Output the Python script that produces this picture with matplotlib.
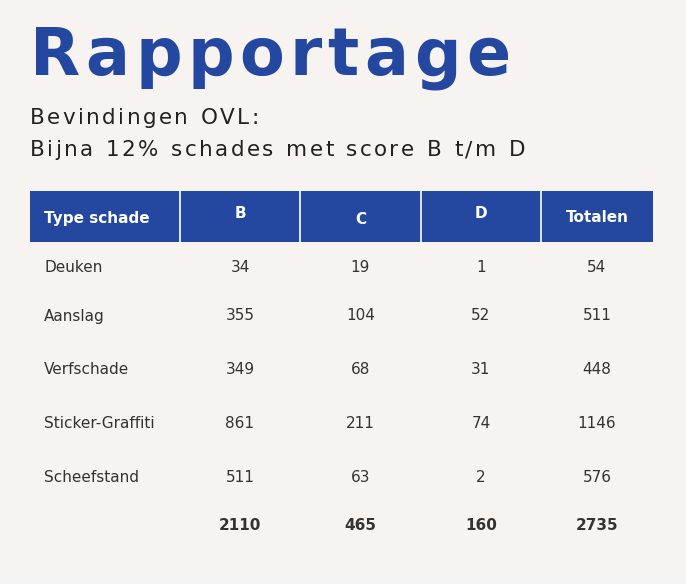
import matplotlib
matplotlib.use("Agg")
import matplotlib.pyplot as plt
from matplotlib.patches import Rectangle

title = "Rapportage"
subtitle = ["Bevindingen OVL:", "Bijna 12% schades met score B t/m D"]
columns = ["Type schade", "B", "C", "D", "Totalen"]
categories = ["Deuken", "Aanslag", "Verfschade", "Sticker-Graffiti", "Scheefstand"]
score_b = [34, 355, 349, 861, 511]
score_c = [19, 104, 68, 211, 63]
score_d = [1, 52, 31, 74, 2]
totals = [54, 511, 448, 1146, 576]
sum_row = [2110, 465, 160, 2735]

bg = "#f7f3f0"
blue = "#2447a0"
fig = plt.figure(figsize=(6.86, 5.84), dpi=100, facecolor=bg)
ax = fig.add_axes([0, 0, 1, 1])
ax.set_xlim(0, 686); ax.set_ylim(584, 0); ax.axis("off")
ax.set_facecolor(bg)
renderer = fig.canvas.get_renderer()


def spaced(s, x0, y, spacing, **kw):
    x = x0
    for ch in s:
        t = ax.text(x, y, ch, va="baseline", ha="left", **kw)
        w = t.get_window_extent(renderer).width if ch != " " else None
        if w is None:
            tmp = ax.text(0, 0, "a", **kw)
            w = tmp.get_window_extent(renderer).width * 0.6
            tmp.remove()
        x += w + spacing


spaced(title, 30, 75, 5.5, fontsize=47, fontweight="bold", color=blue)
spaced(subtitle[0], 30, 124, 2.4, fontsize=15.5, color="#222222")
spaced(subtitle[1], 30, 156, 2.4, fontsize=15.5, color="#222222")

edges = [30, 180, 300, 421, 541, 653]
ax.add_patch(Rectangle((edges[0], 191), edges[-1] - edges[0], 51, color=blue, lw=0))
for e in edges[1:-1]:
    ax.plot([e, e], [191, 242], color="white", lw=1.2)
centers = [(edges[i] + edges[i + 1]) / 2 for i in range(5)]
hy = [219, 214, 219, 214, 217]
for i, c in enumerate(columns):
    x = 44 if i == 0 else centers[i]
    ax.text(x, hy[i], c, color="white", fontsize=11, fontweight="bold", va="center",
            ha="left" if i == 0 else "center")

row_y = [268, 317, 370, 424, 478]
txt = "#333333"
for r, name in enumerate(categories):
    y = row_y[r]
    ax.text(44, y, name, fontsize=11, color=txt, va="center", ha="left")
    for j, v in enumerate([score_b[r], score_c[r], score_d[r], totals[r]]):
        ax.text(centers[j + 1], y - 1, str(v), fontsize=11, color=txt, va="center", ha="center")
for j, v in enumerate(sum_row):
    ax.text(centers[j + 1], 525, str(v), fontsize=11, color=txt, fontweight="bold",
            va="center", ha="center")

fig.savefig("out.png", dpi=100, facecolor=bg)
